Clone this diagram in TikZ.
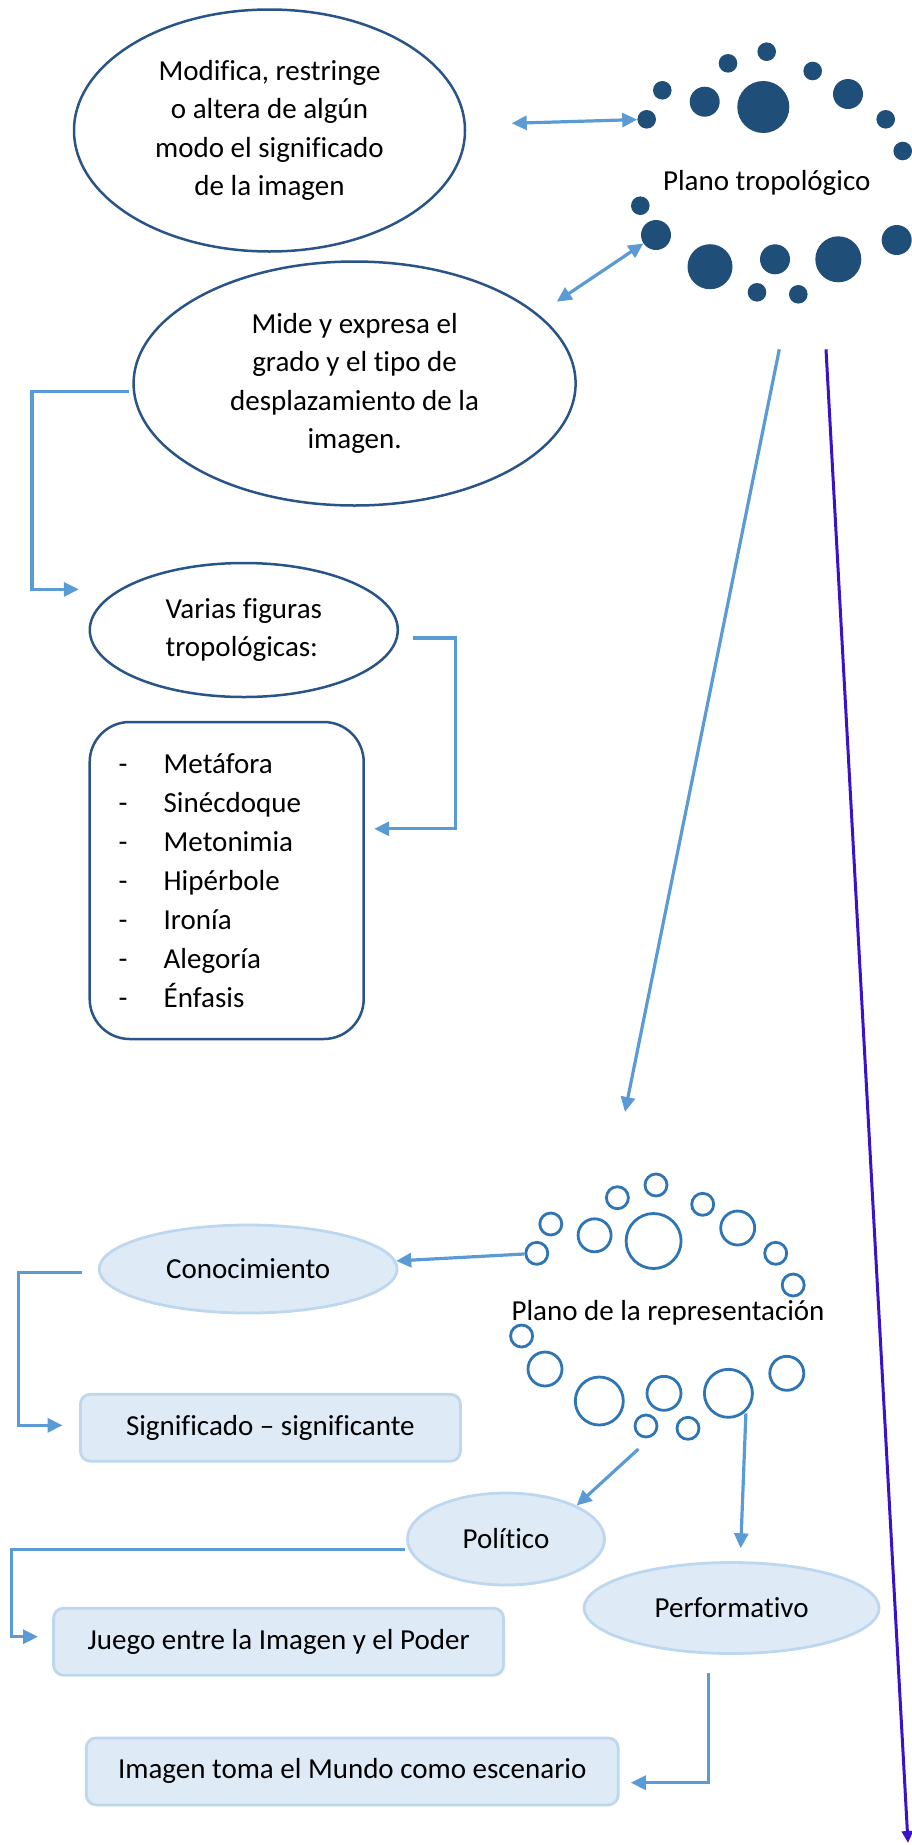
\documentclass[tikz,border=0pt]{standalone}
\usepackage{fontspec}
\setmainfont{Carlito}[Ligatures=NoCommon]
\usetikzlibrary{shapes.geometric,arrows.meta}
\definecolor{dotblue}{RGB}{31,78,121}
\definecolor{edgeblue}{RGB}{41,84,135}
\definecolor{linkblue}{RGB}{91,155,213}
\definecolor{ringblue}{RGB}{46,117,182}
\definecolor{paleblue}{RGB}{222,235,247}
\definecolor{palestroke}{RGB}{189,215,238}
\definecolor{violetline}{RGB}{58,18,200}
\begin{document}
\begin{tikzpicture}[x=1pt,y=-1pt,
  every node/.style={font=\fontsize{29}{38.5}\selectfont, inner sep=0pt},
  topell/.style={ellipse, draw=edgeblue, line width=2.5pt, align=center},
  lowell/.style={ellipse, draw=palestroke, fill=paleblue, line width=2.8pt},
  lowbox/.style={rectangle, rounded corners=10pt, draw=palestroke, fill=paleblue, line width=2.8pt},
  dotc/.style={circle, fill=dotblue, minimum size=#1},
  ringc/.style={circle, draw=ringblue, line width=2.8pt, minimum size=#1},
  link/.style={draw=linkblue, line width=3.2pt, -{Triangle[length=15pt,width=14pt]}},
  dlink/.style={draw=linkblue, line width=3.2pt, {Triangle[length=15pt,width=14pt]}-{Triangle[length=15pt,width=14pt]}},
  vlink/.style={draw=violetline, line width=3pt, -{Triangle[length=12pt,width=11pt]}},
]
\useasboundingbox (0,0) rectangle (911,1845);

% ---------- Plano tropologico cluster ----------
\node[dotc=18.6pt] (d1) at (646.7,119.3) {};
\node[dotc=18.6pt] (d2) at (662.3,90.3) {};
\node[dotc=30pt]   (d3) at (704.7,101.7) {};
\node[dotc=18.6pt] (d4) at (728,63.3) {};
\node[dotc=52pt]   (d5) at (763.3,107) {};
\node[dotc=18.6pt] (d6) at (766.7,51.7) {};
\node[dotc=18.6pt] (d7) at (812.7,71) {};
\node[dotc=30pt]   (d8) at (848,94) {};
\node[dotc=18.6pt] (d9) at (885.7,119.3) {};
\node[dotc=18.6pt] (d10) at (902.7,151) {};
\node[dotc=18.6pt] (d11) at (640.3,205.7) {};
\node[dotc=30pt]   (d12) at (656,235) {};
\node[dotc=45pt]   (d13) at (710,266.7) {};
\node[dotc=30pt]   (d14) at (775,259.3) {};
\node[dotc=46pt]   (d15) at (838.3,259.3) {};
\node[dotc=30pt]   (d16) at (896.7,240) {};
\node[dotc=18.6pt] (d17) at (757,292.3) {};
\node[dotc=18.6pt] (d18) at (798.3,294.3) {};
\node (trop) at (766.7,182.7) {Plano tropológico};

% ---------- upper ellipses ----------
\node[topell, minimum width=391pt, minimum height=242pt] (mod) at (269.5,130.5)
  {Modifica, restringe\\o altera de algún\\modo el significado\\de la imagen};
\node[topell, minimum width=442pt, minimum height=244pt] (mide) at (354.6,383.5)
  {Mide y expresa el\\grado y el tipo de\\desplazamiento de la\\imagen.};
\node[ellipse, draw=edgeblue, line width=2.5pt, align=left, minimum width=308pt, minimum height=134pt] (var) at (243.8,630)
  {Varias figuras\\tropológicas:};
\node[rectangle, rounded corners=40pt, draw=edgeblue, line width=2.5pt,
      minimum width=274pt, minimum height=317pt, align=left, font=\fontsize{29}{39}\selectfont,
      text width=216pt] (list) at (226.7,880.5)
  {\makebox[45pt][l]{-}Metáfora\\
   \makebox[45pt][l]{-}Sinécdoque\\
   \makebox[45pt][l]{-}Metonimia\\
   \makebox[45pt][l]{-}Hipérbole\\
   \makebox[45pt][l]{-}Ironía\\
   \makebox[45pt][l]{-}Alegoría\\
   \makebox[45pt][l]{-}Énfasis};

% ---------- Plano de la representacion cluster ----------
\node[ringc=22pt] (r1) at (656,1185) {};
\node[ringc=22pt] (r2) at (617.4,1197.7) {};
\node[ringc=22pt] (r3) at (702.7,1204.3) {};
\node[ringc=22pt] (r4) at (550.8,1224) {};
\node[ringc=33pt] (r5) at (594.6,1235.3) {};
\node[ringc=55pt] (r6) at (653.6,1241) {};
\node[ringc=34pt] (r7) at (737.7,1228) {};
\node[ringc=22pt] (r8) at (536.8,1253.3) {};
\node[ringc=22pt] (r9) at (775.7,1253.3) {};
\node[ringc=22pt] (r10) at (793.2,1285) {};
\node[ringc=22pt] (r11) at (521.6,1336) {};
\node[ringc=34pt] (r12) at (545,1369) {};
\node[ringc=48pt] (r13) at (599.3,1401) {};
\node[ringc=34pt] (r14) at (664,1393.3) {};
\node[ringc=48pt] (r15) at (728.4,1393.3) {};
\node[ringc=34pt] (r16) at (786.8,1373.3) {};
\node[ringc=22pt] (r17) at (646,1426) {};
\node[ringc=22pt] (r18) at (688,1428.3) {};
\node (rep) at (668,1313) {Plano de la representación};

% ---------- lower nodes ----------
\node[lowell, minimum width=298pt, minimum height=88pt] (con) at (248.2,1269) {Conocimiento};
\node[lowbox, minimum width=380pt, minimum height=67pt] (sig) at (270.4,1427.7) {Significado – significante};
\node[lowell, minimum width=197pt, minimum height=92pt] (pol) at (506,1539) {Político};
\node[lowell, minimum width=295pt, minimum height=91pt] (perf) at (731.6,1608) {Performativo};
\node[lowbox, minimum width=450pt, minimum height=67pt] (jue) at (278.6,1641.7) {Juego entre la Imagen y el Poder};
\node[lowbox, minimum width=532pt, minimum height=67pt] (ima) at (352.2,1771.4) {Imagen toma el Mundo como escenario};

% ---------- connector end points ----------
\coordinate (a1s) at (511.7,123.3);
\coordinate (a2s) at (556.7,301.7);
\coordinate (c2s) at (128.8,391.3);
\coordinate (c2e) at (78.8,589.4);
\coordinate (c3s) at (412.7,638);
\coordinate (c3e) at (374.2,828.8);
\coordinate (t1s) at (779.3,349.3);
\coordinate (t1e) at (625,1112);
\coordinate (t2s) at (826,349.3);
\coordinate (t2e) at (908,1843);
\coordinate (k1s) at (81.8,1272.3);
\coordinate (k1e) at (62.5,1425.3);
\coordinate (p1s) at (638.4,1449);
\coordinate (q1s) at (745.9,1413.3);
\coordinate (q1e) at (740.7,1548.3);
\coordinate (j1s) at (404.8,1549.3);
\coordinate (j1e) at (38,1636.7);
\coordinate (m1s) at (708.5,1672.7);
\coordinate (m1e) at (630.8,1782.7);

% ---------- connectors ----------
\draw[dlink] (a1s) -- (d1);
\draw[dlink] (a2s) -- (d12);
\draw[link] (c2s) -- ++(-96.9,0) |- (c2e);
\draw[link] (c3s) -- ++(43.1,0) |- (c3e);
\draw[link] (t1s) -- (t1e);
\draw[vlink] (t2s) -- (t2e);
\draw[link] (r8) -- (con);
\draw[link] (k1s) -- ++(-63.1,0) |- (k1e);
\draw[link] (p1s) -- (pol.north east);
\draw[link] (q1s) -- (q1e);
\draw[link] (j1s) -- ++(-393.1,0) |- (j1e);
\draw[link] (m1s) |- (m1e);
\end{tikzpicture}
\end{document}
